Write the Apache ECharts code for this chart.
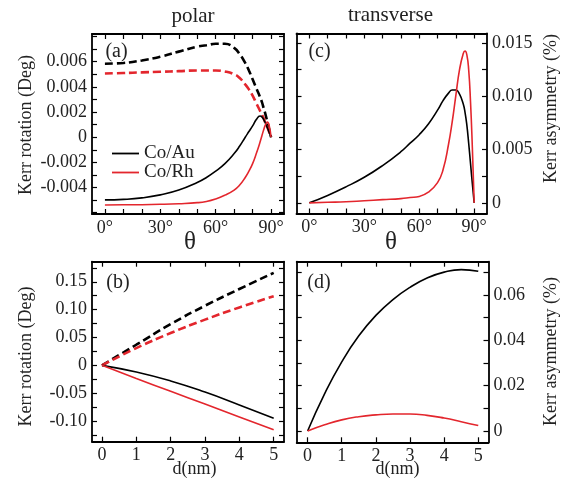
<!DOCTYPE html>
<html>
<head>
<meta charset="utf-8">
<script src="https://cdn.jsdelivr.net/npm/echarts@6/dist/echarts.min.js"></script>
<style>html,body{margin:0;padding:0;background:#fff}#c{width:569px;height:485px}</style>
</head>
<body>
<div id="c"></div>
<script>
// ---- data ----
const thetaDeg = [0,10,20,30,40,50,55,60,65,70,73,76,78,80,82,84,85,86,87,88,89,90];
// (a) polar Kerr rotation
const polarAuDashed = [0.00584,0.0059,0.0061,0.0064,0.0068,0.0072,0.0073,0.00742,0.00742,0.0071,0.0066,0.0059,0.0053,0.0046,0.0039,0.0032,0.0028,0.0023,0.0018,0.0012,0.0006,0];
const polarRhDashed = [0.00506,0.0051,0.00515,0.0052,0.00525,0.0053,0.0053,0.0053,0.00522,0.0050,0.0047,0.0042,0.0038,0.0033,0.0027,0.0021,0.0018,0.0015,0.0011,0.0008,0.0004,0];
const polarAuSolid = [-0.00498,-0.00494,-0.00482,-0.00458,-0.0042,-0.0036,-0.0032,-0.0027,-0.0021,-0.0013,-0.0007,0.0000,0.00045,0.0009,0.0014,0.00168,0.00162,0.0014,0.0011,0.00075,0.00038,0];
const polarRhSolid = [-0.00538,-0.00537,-0.00536,-0.00533,-0.00528,-0.0052,-0.0051,-0.0049,-0.0046,-0.0042,-0.0038,-0.0032,-0.0027,-0.0021,-0.0013,-0.0004,0.0001,0.0006,0.0010,0.0012,0.0009,0];
// (c) transverse Kerr asymmetry
const transAu = [0,0.0007,0.0015,0.0024,0.0035,0.0048,0.0056,0.0064,0.0074,0.0087,0.0096,0.0103,0.0106,0.0106,0.0102,0.0093,0.0085,0.0073,0.0056,0.0037,0.0018,0];
const transRh = [0,0.00005,0.0001,0.0002,0.0003,0.0004,0.0005,0.0006,0.0010,0.0019,0.0031,0.0055,0.0076,0.0101,0.0125,0.0140,0.01425,0.0139,0.0125,0.0095,0.0052,0];
// (b) polar vs thickness
const thickB = [0,1,2,3,4,5];
const thickAuDashed = [0,0.037,0.074,0.107,0.137,0.166];
const thickRhDashed = [0,0.031,0.058,0.082,0.104,0.124];
const thickAuSolid = [0,-0.012,-0.028,-0.048,-0.071,-0.095];
const thickRhSolid = [0,-0.0235,-0.0465,-0.0695,-0.0925,-0.1155];
// (d) transverse vs thickness
const thickD = [0,0.5,1,1.5,2,2.5,3,3.5,4,4.5,5];
const thickTransAu = [0,0.0165,0.0305,0.0420,0.0510,0.0580,0.0634,0.0675,0.0701,0.0712,0.0705];
const thickTransRh = [0,0.0027,0.0049,0.0063,0.0071,0.0075,0.0075,0.0069,0.0057,0.0041,0.0024];
// ticks & labels
const thetaTicks = [0,10,20,30,40,50,60,70,80,90];
const thetaLabels = [0,30,60,90];
const aTicks = [-0.006,-0.005,-0.004,-0.003,-0.002,-0.001,0,0.001,0.002,0.003,0.004,0.005,0.006,0.007,0.008];
const aLabels = [-0.004,-0.002,0,0.002,0.004,0.006];
const cTicks = [0,0.0025,0.005,0.0075,0.01,0.0125,0.015];
const cLabels = [0,0.005,0.010,0.015];
const dTicksX = [0,1,2,3,4,5];
const bTicks = [-0.125,-0.1,-0.075,-0.05,-0.025,0,0.025,0.05,0.075,0.1,0.125,0.15,0.175];
const bLabels = [-0.10,-0.05,0,0.05,0.10,0.15];
const dTicks = [0,0.01,0.02,0.03,0.04,0.05,0.06,0.07];
const dLabels = [0,0.02,0.04,0.06];

const FONT = 'Liberation Serif';
const BLACK = '#000000';
const RED = '#e3262d';

function axis(grid, pos, min, max, ticks, labels, fmt, showLabels) {
  return {
    type: 'value', gridIndex: grid, position: pos, min: min, max: max,
    axisLine: { show: true, onZero: false, lineStyle: { color: '#000', width: 1.8 } },
    axisTick: { show: true, inside: true, length: 5, customValues: ticks, lineStyle: { color: '#000', width: 1.2 } },
    axisLabel: { show: showLabels, customValues: labels, formatter: fmt, margin: 5,
      fontFamily: FONT, fontSize: 18, color: '#222' },
    splitLine: { show: false }
  };
}
const fDeg = v => Math.round(v) + '°';
const f3 = v => Math.abs(v) < 1e-12 ? '0' : v.toFixed(3);
const f2 = v => Math.abs(v) < 1e-12 ? '0' : v.toFixed(2);
const f0 = v => String(Math.round(v));

const xAxis = [
  axis(0,'bottom',-7,97,thetaTicks,thetaLabels,fDeg,true),
  axis(0,'top',-7,97,thetaTicks,thetaLabels,fDeg,false),
  axis(1,'bottom',-7,97,thetaTicks,thetaLabels,fDeg,true),
  axis(1,'top',-7,97,thetaTicks,thetaLabels,fDeg,false),
  axis(2,'bottom',-0.29,5.3,dTicksX,dTicksX,f0,true),
  axis(2,'top',-0.29,5.3,dTicksX,dTicksX,f0,false),
  axis(3,'bottom',-0.32,5.3,dTicksX,dTicksX,f0,true),
  axis(3,'top',-0.32,5.3,dTicksX,dTicksX,f0,false)
];
const yAxis = [
  axis(0,'left',-0.0061,0.0082,aTicks,aLabels,f3,true),
  axis(0,'right',-0.0061,0.0082,aTicks,aLabels,f3,false),
  axis(1,'right',-0.001,0.0159,cTicks,cLabels,f3,true),
  axis(1,'left',-0.001,0.0159,cTicks,cLabels,f3,false),
  axis(2,'left',-0.137,0.186,bTicks,bLabels,f2,true),
  axis(2,'right',-0.137,0.186,bTicks,bLabels,f2,false),
  axis(3,'right',-0.005,0.0747,dTicks,dLabels,f2,true),
  axis(3,'left',-0.005,0.0747,dTicks,dLabels,f2,false)
];

function line(name, xs, ys, xi, yi, color, dashed, smooth) {
  return {
    name: name, type: 'line', xAxisIndex: xi, yAxisIndex: yi,
    data: xs.map((x, i) => [x, ys[i]]),
    symbol: 'none', showSymbol: false, smooth: smooth, animation: false,
    lineStyle: dashed ? { color: color, width: 2.6, type: [8, 4] } : { color: color, width: 1.6 },
    itemStyle: { color: color }
  };
}

const S = 0.5;
const series = [
  line('Au polar dashed', thetaDeg, polarAuDashed, 0, 0, BLACK, true, S),
  line('Rh polar dashed', thetaDeg, polarRhDashed, 0, 0, RED, true, S),
  line('Co/Au', thetaDeg, polarAuSolid, 0, 0, BLACK, false, S),
  line('Co/Rh', thetaDeg, polarRhSolid, 0, 0, RED, false, S),
  line('Au trans', thetaDeg, transAu, 2, 2, BLACK, false, S),
  line('Rh trans', thetaDeg, transRh, 2, 2, RED, false, S),
  line('Au d dashed', thickB, thickAuDashed, 4, 4, BLACK, true, S),
  line('Rh d dashed', thickB, thickRhDashed, 4, 4, RED, true, S),
  line('Au d solid', thickB, thickAuSolid, 4, 4, BLACK, false, S),
  line('Rh d solid', thickB, thickRhSolid, 4, 4, RED, false, S),
  line('Au d trans', thickD, thickTransAu, 6, 6, BLACK, false, S),
  line('Rh d trans', thickD, thickTransRh, 6, 6, RED, false, S)
];

function txt(s, x, y, size, rot) {
  return { type: 'text', x: x, y: y, rotation: rot || 0, silent: true,
    style: { text: s, x: 0, y: 0, fill: '#222', fontFamily: FONT, fontSize: size, align: 'center', verticalAlign: 'middle' } };
}
const R = Math.PI / 2;
const graphic = [
  txt('polar', 193, 16, 21),
  txt('transverse', 390.5, 15, 21),
  txt('θ', 190, 242, 25),
  txt('θ', 391, 242, 25),
  txt('d(nm)', 194.5, 469, 18),
  txt('d(nm)', 397.5, 469, 18),
  txt('Kerr rotation (Deg)', 26, 125, 18, R),
  txt('Kerr rotation (Deg)', 26, 356.5, 18, R),
  txt('Kerr asymmetry (%)', 551.5, 108.5, 18, R),
  txt('Kerr asymmetry (%)', 551.5, 351.5, 18, R),
  txt('(a)', 116.5, 51.5, 20),
  txt('(c)', 319.5, 51.5, 20),
  txt('(b)', 118, 282.5, 20),
  txt('(d)', 319, 282.5, 20)
];

const chart = echarts.init(document.getElementById('c'), null, { renderer: 'canvas' });
chart.setOption({
  backgroundColor: '#fff',
  animation: false,
  textStyle: { fontFamily: FONT },
  grid: [
    { left: 92, top: 34, width: 192, height: 180 },
    { left: 296.5, top: 33.5, width: 190.5, height: 180 },
    { left: 92, top: 261.7, width: 192, height: 180 },
    { left: 296.7, top: 261.7, width: 191.8, height: 180.6 }
  ],
  legend: {
    data: ['Co/Au', 'Co/Rh'], orient: 'vertical', left: 107, top: 139,
    icon: 'rect', itemWidth: 27, itemHeight: 1.8, itemGap: 0, selectedMode: false,
    textStyle: { fontFamily: FONT, fontSize: 19, lineHeight: 19, color: '#222' }
  },
  xAxis: xAxis,
  yAxis: yAxis,
  series: series,
  graphic: graphic
});
</script>
</body>
</html>
